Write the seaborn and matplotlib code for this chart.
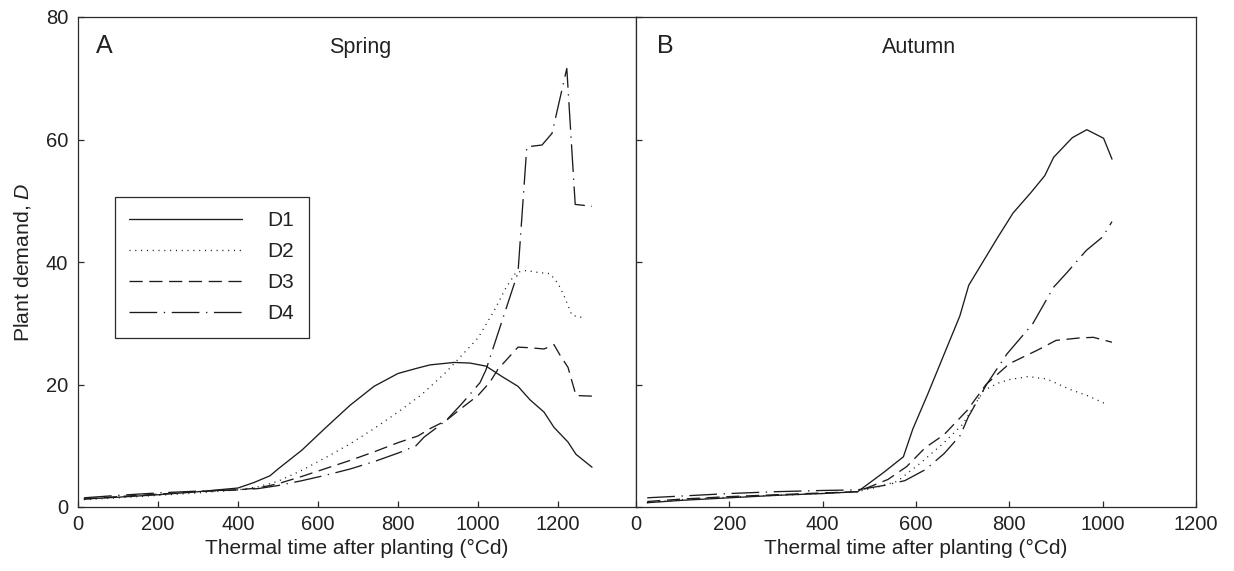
import numpy as np
import pandas as pd
import matplotlib
matplotlib.use("Agg")
import matplotlib.pyplot as plt
import seaborn as sns

# ---------------- data ----------------
series_names = ["D1", "D2", "D3", "D4"]

# Spring (panel A)
spring_d1_x = [15, 100, 200, 300, 400, 440, 480, 500, 560, 620, 680, 740, 800, 850, 880, 940, 980, 1020, 1060, 1100, 1130, 1165, 1190, 1225, 1245, 1285]
spring_d1_y = [1.3, 1.6, 2.0, 2.5, 3.1, 4.0, 5.1, 6.2, 9.3, 13.0, 16.6, 19.7, 21.8, 22.7, 23.2, 23.6, 23.5, 23.0, 21.3, 19.7, 17.5, 15.5, 13.0, 10.6, 8.6, 6.5]

spring_d2_x = [15, 100, 200, 300, 400, 450, 500, 560, 620, 680, 740, 800, 860, 920, 960, 1000, 1040, 1070, 1095, 1120, 1150, 1180, 1200, 1215, 1235, 1270]
spring_d2_y = [1.2, 1.5, 1.9, 2.3, 2.8, 3.3, 4.2, 6.0, 8.1, 10.3, 12.8, 15.5, 18.4, 22.0, 24.8, 27.6, 32.0, 35.8, 38.3, 38.6, 38.3, 38.1, 36.5, 34.5, 31.3, 30.8]

spring_d3_x = [15, 100, 200, 300, 400, 450, 500, 560, 620, 680, 740, 800, 850, 880, 920, 960, 1000, 1030, 1050, 1075, 1100, 1130, 1165, 1190, 1205, 1225, 1245, 1285]
spring_d3_y = [1.3, 1.7, 2.1, 2.5, 2.8, 3.1, 3.8, 5.0, 6.3, 7.6, 9.0, 10.5, 11.6, 12.8, 14.1, 16.2, 18.2, 20.4, 22.5, 24.3, 26.1, 26.0, 25.8, 26.5, 24.8, 22.8, 18.2, 18.1]

spring_d4_x = [15, 100, 200, 300, 400, 450, 500, 560, 620, 680, 740, 800, 845, 865, 920, 960, 1005, 1020, 1100, 1122, 1160, 1185, 1222, 1243, 1285]
spring_d4_y = [1.5, 1.9, 2.3, 2.6, 2.8, 3.0, 3.5, 4.3, 5.2, 6.2, 7.4, 8.8, 10.0, 11.4, 14.1, 16.9, 20.3, 22.4, 38.3, 58.8, 59.1, 61.0, 71.6, 49.4, 49.1]

# Autumn (panel B)
autumn_d1_x = [24, 100, 200, 300, 400, 475, 530, 573, 593, 625, 660, 694, 713, 775, 808, 847, 876, 895, 935, 966, 1002, 1020]
autumn_d1_y = [0.7, 1.1, 1.5, 1.9, 2.2, 2.5, 5.6, 8.2, 12.7, 18.4, 24.9, 31.2, 36.2, 44.0, 48.0, 51.4, 54.1, 57.1, 60.3, 61.6, 60.2, 56.8]

autumn_d2_x = [24, 100, 200, 300, 400, 475, 520, 560, 610, 660, 700, 745, 775, 800, 840, 880, 930, 970, 1010]
autumn_d2_y = [0.7, 1.2, 1.6, 1.9, 2.2, 2.5, 3.3, 4.2, 7.2, 10.5, 13.5, 19.0, 20.2, 20.8, 21.3, 20.9, 19.2, 18.1, 16.7]

autumn_d3_x = [24, 100, 200, 300, 400, 475, 540, 580, 620, 660, 710, 750, 800, 860, 900, 950, 980, 1020]
autumn_d3_y = [0.9, 1.3, 1.7, 2.0, 2.3, 2.5, 4.5, 6.6, 9.7, 11.8, 15.8, 20.0, 23.4, 25.6, 27.2, 27.6, 27.7, 26.9]

autumn_d4_x = [24, 100, 200, 300, 400, 475, 530, 576, 620, 660, 695, 712, 752, 795, 850, 895, 925, 965, 1000, 1020]
autumn_d4_y = [1.5, 1.8, 2.2, 2.5, 2.7, 2.8, 3.5, 4.3, 6.1, 8.7, 11.7, 14.7, 20.1, 25.0, 29.9, 35.9, 38.4, 41.9, 44.1, 46.6]

x_ticks = [0, 200, 400, 600, 800, 1000, 1200]
y_ticks = [0, 20, 40, 60, 80]

# ---------------- build long-form tables ----------------
def long_table(xs, ys):
    frames = []
    for name, x, y in zip(series_names, xs, ys):
        frames.append(pd.DataFrame({"x": x, "y": y, "series": name}))
    return pd.concat(frames, ignore_index=True)

spring = long_table([spring_d1_x, spring_d2_x, spring_d3_x, spring_d4_x],
                    [spring_d1_y, spring_d2_y, spring_d3_y, spring_d4_y])
autumn = long_table([autumn_d1_x, autumn_d2_x, autumn_d3_x, autumn_d4_x],
                    [autumn_d1_y, autumn_d2_y, autumn_d3_y, autumn_d4_y])

# ---------------- style ----------------
sns.set_theme(style="white")
plt.rcParams["font.family"] = ["Liberation Sans", "DejaVu Sans"]
plt.rcParams["mathtext.fontset"] = "custom"
plt.rcParams["mathtext.rm"] = "Liberation Sans"
plt.rcParams["mathtext.it"] = "Liberation Sans:italic"

line_color = "#1c1c1c"
spine_color = "#2a2a2a"
text_color = "#222222"
palette = {n: line_color for n in series_names}
dash_map = {"D1": "", "D2": (0.8, 3.6), "D3": (10, 5), "D4": (21, 5, 1, 5)}

fig = plt.figure(figsize=(12.34, 5.71), dpi=100)
W, H = 1234, 571
ax1 = fig.add_axes([78 / W, 64 / H, 558 / W, 490 / H])
ax2 = fig.add_axes([636 / W, 64 / H, 560 / W, 490 / H])

for ax, data in ((ax1, spring), (ax2, autumn)):
    sns.lineplot(data=data, x="x", y="y", hue="series", style="series",
                 palette=palette, dashes=dash_map, linewidth=0.95,
                 sort=False, estimator=None, legend=False, ax=ax)
    ax.set_ylim(0, 80)
    ax.set_yticks(y_ticks)
    ax.set_xticks(x_ticks)
    ax.tick_params(axis="both", which="both", direction="in", length=4.5,
                   width=0.9, color=spine_color, labelsize=14.5,
                   labelcolor=text_color, bottom=True, left=True,
                   top=False, right=False)
    ax.tick_params(axis="x", pad=6)
    ax.tick_params(axis="y", pad=7)
    for s in ax.spines.values():
        s.set_visible(True)
        s.set_color(spine_color)
        s.set_linewidth(0.9)
    ax.set_xlabel("Thermal time after planting (\u00b0Cd)", fontsize=15,
                  color=text_color, labelpad=3)
    ax.set_ylabel("")
    ax.grid(False)

ax1.set_xlim(0, 1395)
ax2.set_xlim(0, 1200)
ax2.set_yticklabels([])
ax1.set_ylabel("Plant demand, $\\it{D}$", fontsize=15.3, color=text_color, labelpad=9)

ax1.text(0.032, 0.941, "A", transform=ax1.transAxes, fontsize=18,
         ha="left", va="center", color=text_color)
ax1.text(0.505, 0.937, "Spring", transform=ax1.transAxes, fontsize=15.5,
         ha="center", va="center", color=text_color)
ax2.text(0.0375, 0.941, "B", transform=ax2.transAxes, fontsize=18,
         ha="left", va="center", color=text_color)
ax2.text(0.505, 0.937, "Autumn", transform=ax2.transAxes, fontsize=15.5,
         ha="center", va="center", color=text_color)

handles = ax1.get_lines()[:4]
leg = ax1.legend(handles, series_names, loc="upper left",
                 bbox_to_anchor=(0.0656, 0.633), borderaxespad=0,
                 fontsize=15, handlelength=5.4, handletextpad=1.25,
                 labelspacing=0.57, borderpad=0.7, frameon=True,
                 fancybox=False, framealpha=1, edgecolor=spine_color)
leg.get_frame().set_linewidth(0.9)
for t in leg.get_texts():
    t.set_color(text_color)

fig.savefig("out.png", dpi=100)
